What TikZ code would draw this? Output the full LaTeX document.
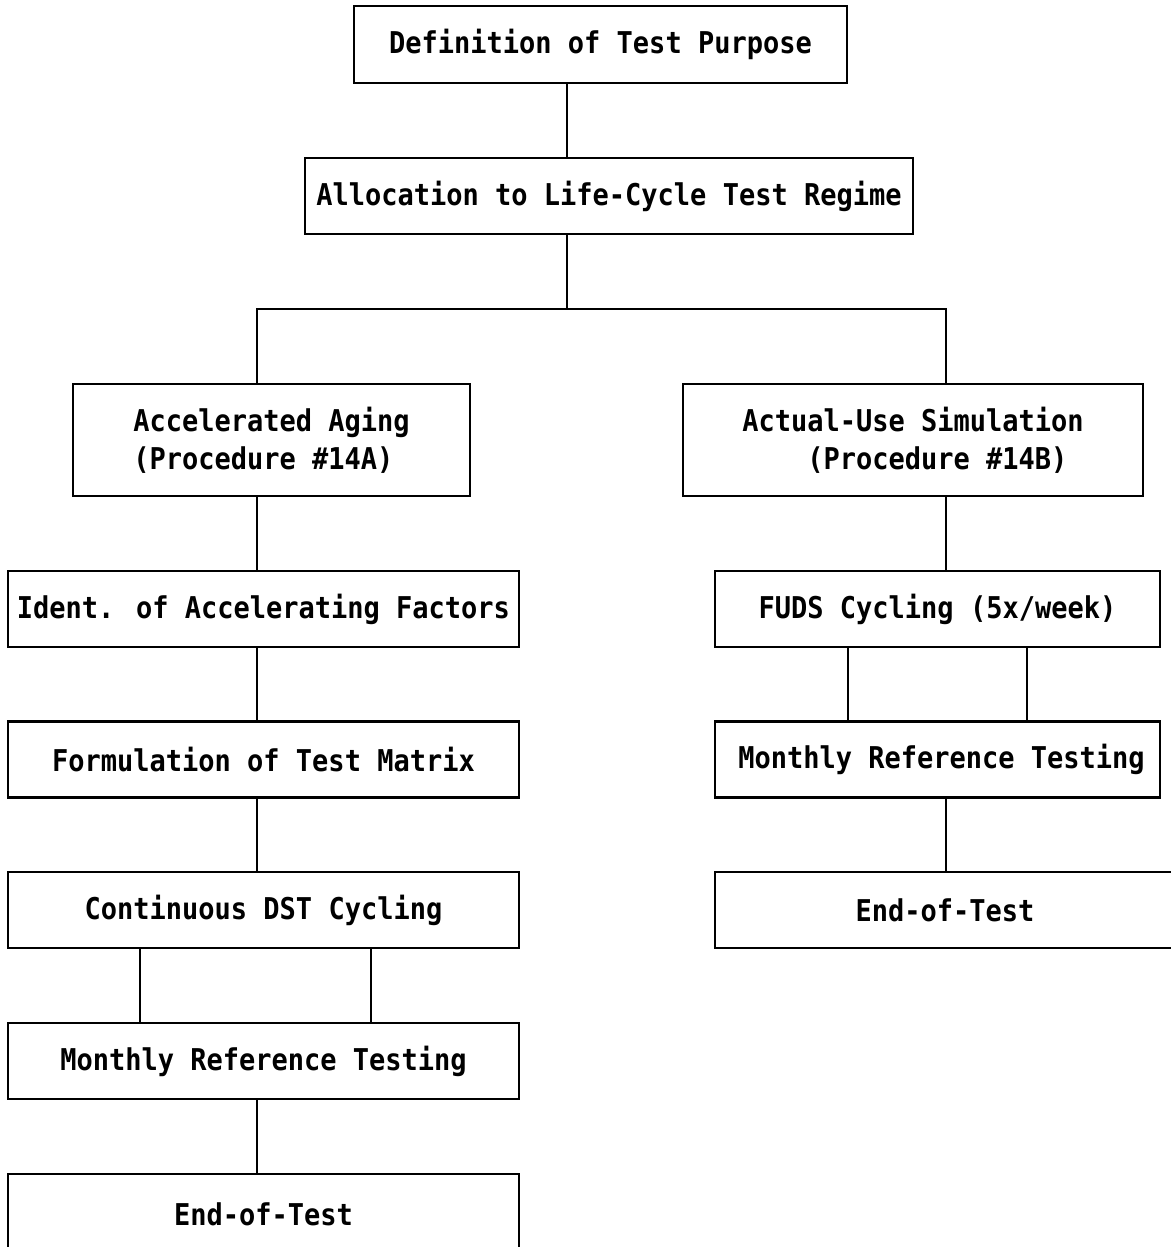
\documentclass[tikz,border=0pt]{standalone}
\usepackage{fontspec}
\newfontfamily\boxfont[FakeStretch=0.9]{DejaVu Sans Mono}
\begin{document}
\begin{tikzpicture}[x=0.5pt,y=-0.5pt]

\tikzstyle{box}=[draw,line width=1.1pt,inner sep=0pt,minimum height=38pt,font=\boxfont\bfseries\fontsize{15}{19}\selectfont]
\tikzstyle{tall box}=[box,minimum height=56pt,align=left]
\tikzstyle{wire}=[line width=1.1pt]

\useasboundingbox(0,0)rectangle(1171,1247);

% top of the tree
\node[box,minimum width=246.5pt,minimum height=38.5pt](purpose)at(600.5,44.5){Definition of Test Purpose};
\node[box,minimum width=304pt](regime)at(609,196){Allocation to Life-Cycle Test Regime};

% two branches
\node[tall box,minimum width=198.5pt](aging)at(271.5,440){Accelerated Aging\\(Procedure \#14A)};
\node[tall box,minimum width=230pt](usesim)at(913,440){Actual-Use Simulation\\\hphantom{xxxx}(Procedure \#14B)};

% left column
\node[box,minimum width=255.5pt](factors)at(263.5,609){Ident. of Accelerating Factors};
\node[box,minimum width=255.5pt](matrix)at(263.5,759.5){Formulation of Test Matrix};
\node[box,minimum width=255.5pt](dst)at(263.5,910){Continuous DST Cycling};
\node[box,minimum width=255.5pt](refleft)at(263.5,1061){Monthly Reference Testing};
\node[box,minimum width=255.5pt,minimum height=40pt](endleft)at(263.5,1214){End-of-Test};

% right column
\node[box,minimum width=222.5pt](fuds)at(937.5,609){FUDS Cycling (5x/week)};
\node[box,minimum width=222.5pt](refright)at(937.5,759.5){\hspace*{4pt}Monthly Reference Testing};
\node[box,minimum width=230pt](endright)at(945,910){End-of-Test};

\coordinate(trunk)at(567,0);
\coordinate(split)at(567,309);
\coordinate(lcol)at(257,0);
\coordinate(rcol)at(946,0);
\coordinate(la)at(140,0);
\coordinate(lb)at(371,0);
\coordinate(ra)at(848,0);
\coordinate(rb)at(1027,0);

\draw[wire](purpose.south-|trunk)--(regime.north-|trunk);
\draw[wire](regime.south-|trunk)--(split);
\draw[wire](aging.north-|lcol)|-(split)-|(usesim.north-|rcol);

\draw[wire](aging.south-|lcol)--(factors.north-|lcol);
\draw[wire](factors.south-|lcol)--(matrix.north-|lcol);
\draw[wire](matrix.south-|lcol)--(dst.north-|lcol);
\draw[wire](dst.south-|la)--(refleft.north-|la);
\draw[wire](dst.south-|lb)--(refleft.north-|lb);
\draw[wire](refleft.south-|lcol)--(endleft.north-|lcol);

\draw[wire](usesim.south-|rcol)--(fuds.north-|rcol);
\draw[wire](fuds.south-|ra)--(refright.north-|ra);
\draw[wire](fuds.south-|rb)--(refright.north-|rb);
\draw[wire](refright.south-|rcol)--(endright.north-|rcol);

\end{tikzpicture}
\end{document}
